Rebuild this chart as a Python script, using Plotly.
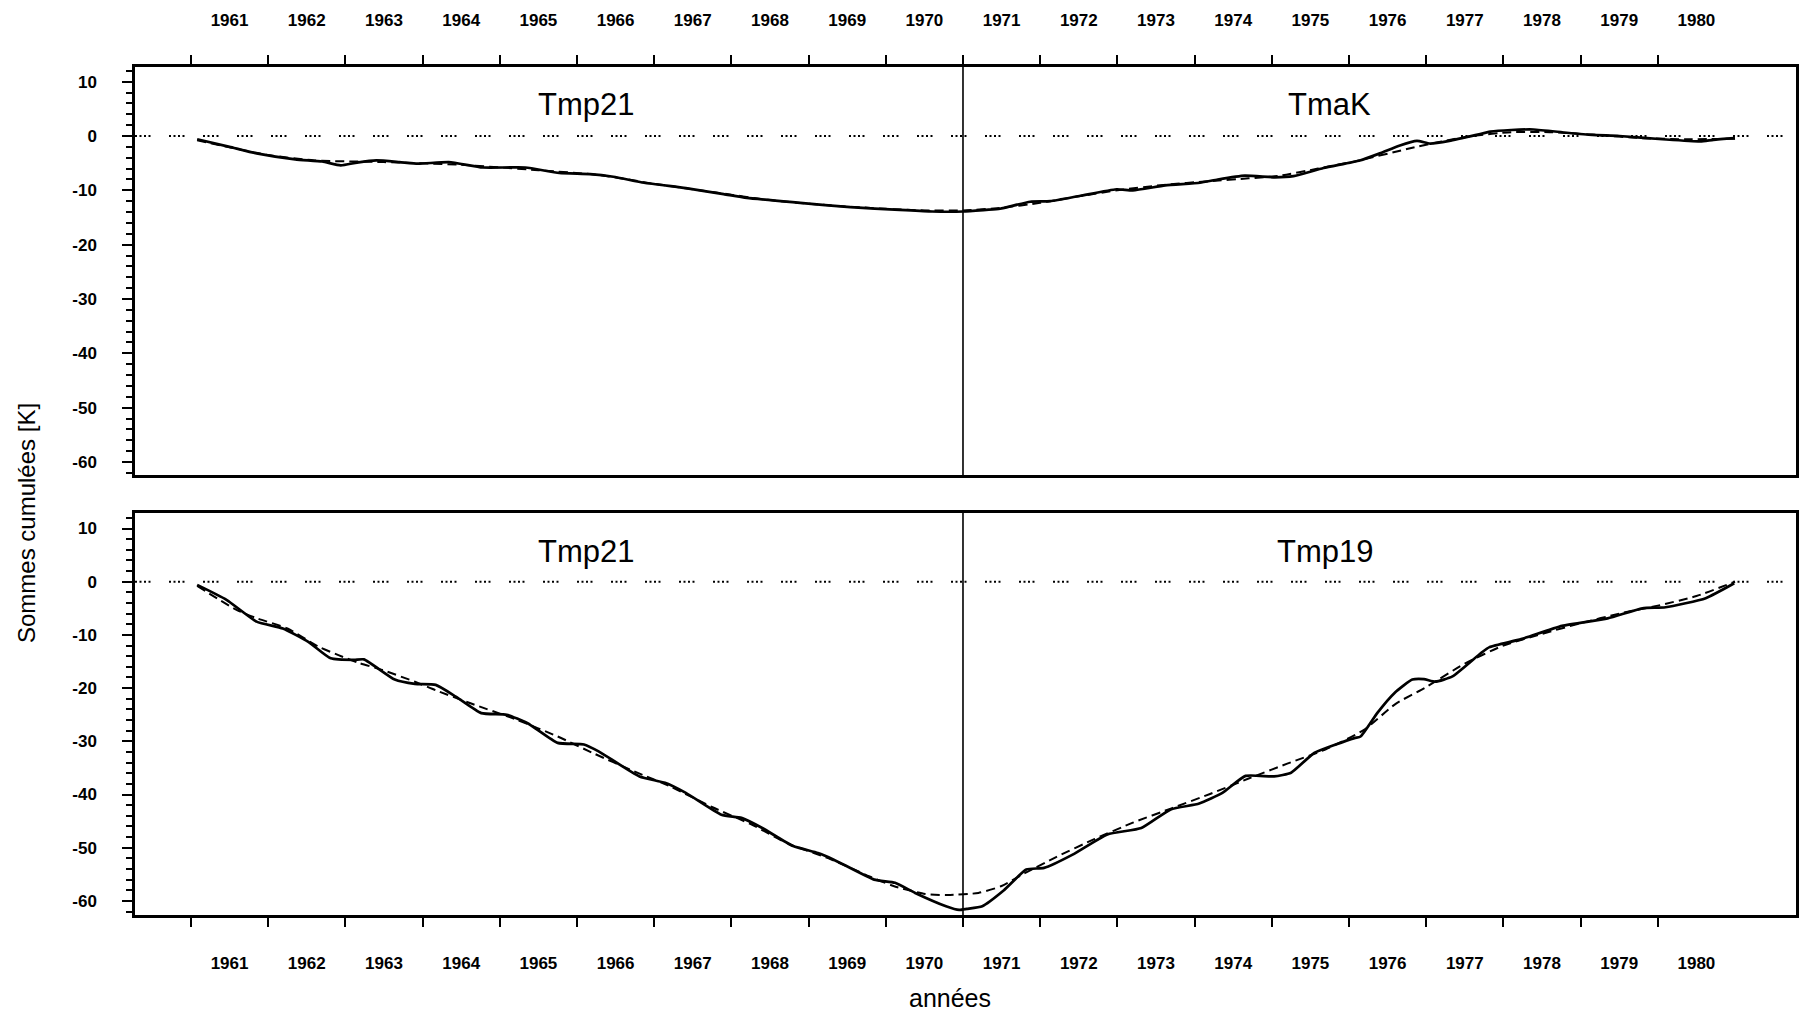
import plotly.graph_objects as go

# ---- upper row: cumulative sums Tmp21 (1961-1970) | TmaK (1971-1980) ----
top_years = [1961.08, 1961.5, 1961.85, 1962.35, 1962.7, 1962.94, 1963.15, 1963.4, 1963.7, 1963.94,
             1964.34, 1964.78, 1965.33, 1965.77, 1966.17, 1966.47, 1966.87, 1967.41, 1967.9, 1968.2,
             1968.89, 1969.54, 1970.18, 1970.6, 1971.0, 1971.3, 1971.48, 1971.87, 1972.13, 1972.52,
             1972.99, 1973.2, 1973.62, 1974.07, 1974.3, 1974.65, 1975.04, 1975.28, 1975.67, 1976.14,
             1976.4, 1976.65, 1976.88, 1977.05, 1977.3, 1977.65, 1977.83, 1978.1, 1978.39, 1978.82,
             1979.15, 1979.5, 1980.06, 1980.55, 1980.72, 1981.0]
top_solid = [-0.6, -2.0, -3.2, -4.3, -4.7, -5.4, -4.9, -4.5, -4.8, -5.1,
             -4.8, -5.8, -5.8, -6.8, -7.0, -7.5, -8.6, -9.6, -10.7, -11.4,
             -12.3, -13.1, -13.6, -13.9, -13.9, -13.6, -13.4, -12.1, -12.0, -11.0,
             -9.8, -10.0, -9.1, -8.6, -8.0, -7.3, -7.6, -7.4, -5.9, -4.5,
             -3.2, -1.8, -0.9, -1.4, -0.9, 0.2, 0.8, 1.1, 1.2, 0.6,
             0.2, 0.0, -0.6, -1.0, -0.7, -0.4]

top_fit_years = [1961.08, 1962.0, 1962.6, 1963.5, 1964.5, 1965.5, 1966.3, 1967.0, 1967.8, 1968.5,
                 1969.3, 1970.0, 1970.5, 1971.0, 1971.5, 1972.0, 1972.5, 1973.0, 1973.6, 1974.2,
                 1974.7, 1975.1, 1975.6, 1976.1, 1976.75, 1977.2, 1977.6, 1978.1, 1978.6, 1979.2,
                 1979.8, 1980.4, 1981.0]
top_fit = [-0.8, -3.5, -4.5, -4.8, -5.3, -6.3, -7.2, -8.8, -10.4, -11.8,
           -12.8, -13.4, -13.7, -13.7, -13.2, -12.3, -11.1, -10.0, -9.0, -8.3,
           -7.8, -7.3, -6.0, -4.6, -2.4, -1.0, 0.0, 0.7, 0.7, 0.2,
           -0.4, -0.6, -0.5]

# ---- lower row: cumulative sums Tmp21 (1961-1970) | Tmp19 (1971-1980) ----
bottom_years = [1961.08, 1961.46, 1961.85, 1962.19, 1962.52, 1962.81, 1963.11, 1963.24, 1963.64, 1963.9,
                1964.17, 1964.43, 1964.76, 1965.09, 1965.36, 1965.75, 1966.09, 1966.28, 1966.81, 1967.14,
                1967.41, 1967.87, 1968.13, 1968.4, 1968.8, 1969.12, 1969.32, 1969.85, 1970.12, 1970.38,
                1970.78, 1970.95, 1971.05, 1971.25, 1971.53, 1971.82, 1972.05, 1972.42, 1972.87, 1973.31,
                1973.69, 1974.06, 1974.36, 1974.66, 1975.03, 1975.25, 1975.55, 1976.07, 1976.15, 1976.37,
                1976.59, 1976.82, 1976.97, 1977.12, 1977.34, 1977.71, 1977.82, 1978.23, 1978.76, 1979.35,
                1979.8, 1980.1, 1980.62, 1980.99]
bottom_solid = [-0.6, -3.4, -7.5, -8.8, -11.3, -14.4, -14.7, -14.6, -18.4, -19.2,
                -19.4, -21.6, -24.7, -25.0, -26.6, -30.3, -30.6, -31.9, -36.6, -37.8,
                -39.7, -43.8, -44.4, -46.3, -49.7, -51.0, -52.2, -56.0, -56.6, -58.5,
                -61.0, -61.7, -61.5, -61.0, -58.0, -54.1, -53.8, -51.3, -47.5, -46.3,
                -42.8, -41.7, -39.7, -36.5, -36.6, -35.9, -32.2, -29.4, -29.1, -24.6,
                -20.9, -18.4, -18.3, -18.8, -17.8, -13.4, -12.3, -10.8, -8.3, -6.9,
                -5.0, -4.8, -3.1, -0.3]

bottom_fit_years = [1961.08, 1961.59, 1961.86, 1962.25, 1962.65, 1962.91, 1963.18, 1963.48, 1963.9, 1964.17,
                    1964.63, 1965.23, 1965.75, 1966.22, 1966.75, 1967.21, 1967.74, 1968.27, 1968.73, 1969.26,
                    1969.79, 1970.1, 1970.51, 1970.8, 1971.2, 1971.5, 1971.8, 1972.2, 1972.7, 1973.2,
                    1973.7, 1974.2, 1974.7, 1975.2, 1975.7, 1976.2, 1976.6, 1977.0, 1977.5, 1978.0,
                    1978.5, 1979.0, 1979.5, 1980.0, 1980.5, 1981.0]
bottom_fit = [-0.8, -5.3, -6.9, -8.8, -12.2, -13.8, -15.3, -16.6, -18.8, -20.4,
              -22.9, -26.0, -29.1, -32.3, -35.7, -38.5, -42.3, -45.7, -49.2, -52.0,
              -55.4, -57.2, -58.7, -58.9, -58.5, -57.2, -54.8, -51.8, -48.4, -45.3,
              -42.6, -39.9, -37.0, -34.2, -31.5, -27.8, -23.0, -19.8, -15.4, -12.0,
              -9.8, -7.8, -6.0, -4.5, -2.7, 0.0]

# panel labels: (name, year position, value position)
top_labels = [("Tmp21", 1966.12, 5.8), ("TmaK", 1975.75, 5.8)]
bottom_labels = [("Tmp21", 1966.12, 5.6), ("Tmp19", 1975.69, 5.6)]

# axis ticks
year_ticks = list(range(1961, 1981))
year_text = [str(y) for y in year_ticks]
year_label_pos = [y + 0.5 for y in year_ticks]
y_major = [10, 0, -10, -20, -30, -40, -50, -60]
y_minor = [v for v in range(-62, 13, 2) if v % 10 != 0]
split_year = 1971

FONT = "Liberation Sans, Arial, Helvetica, sans-serif"
BLACK = "black"
X_DOMAIN = [135 / 1802, 1796 / 1802]
X_RANGE = [1960.275, 1981.79]

fig = go.Figure()

for xa, ya, yrs, vals, fyrs, fvals in [
    ("x", "y", top_years, top_solid, top_fit_years, top_fit),
    ("x2", "y2", bottom_years, bottom_solid, bottom_fit_years, bottom_fit),
]:
    fig.add_trace(go.Scatter(x=fyrs, y=fvals, mode="lines", xaxis=xa, yaxis=ya,
                             line=dict(color=BLACK, width=2, dash="9px,5px",
                                       shape="spline", smoothing=0.6),
                             showlegend=False, hoverinfo="skip"))
    fig.add_trace(go.Scatter(x=yrs, y=vals, mode="lines", xaxis=xa, yaxis=ya,
                             line=dict(color=BLACK, width=2.7, shape="spline", smoothing=0.5),
                             showlegend=False, hoverinfo="skip"))


def x_axis(anchor, side, standoff):
    return dict(
        domain=X_DOMAIN, range=X_RANGE, anchor=anchor, side=side,
        tickmode="array", tickvals=year_label_pos, ticktext=year_text, ticks="",
        tickfont=dict(family=FONT, size=17, color=BLACK, weight=700),
        ticklabelstandoff=standoff,
        minor=dict(tickmode="array", tickvals=year_ticks, ticks="outside",
                   ticklen=9, tickwidth=2, tickcolor=BLACK),
        showline=True, linecolor=BLACK, linewidth=2.5, mirror=True,
        showgrid=False, zeroline=False, fixedrange=True,
    )


def y_axis(anchor, domain, rng):
    return dict(
        domain=domain, range=rng, anchor=anchor,
        tickmode="array", tickvals=y_major, ticktext=[str(v) for v in y_major],
        ticks="outside", ticklen=10, tickwidth=2, tickcolor=BLACK,
        tickfont=dict(family=FONT, size=17, color=BLACK, weight=700),
        ticklabelstandoff=22,
        minor=dict(tickmode="array", tickvals=y_minor, ticks="outside",
                   ticklen=6, tickwidth=1.6, tickcolor=BLACK),
        showline=True, linecolor=BLACK, linewidth=2.5, mirror=True,
        showgrid=False, zeroline=False, fixedrange=True,
    )


dotted = "2px,2.5px,2px,2.5px,2px,2.5px,2px,18.5px"
shapes = []
annotations = []
for xa, ya, labels in [("x", "y", top_labels), ("x2", "y2", bottom_labels)]:
    # reference line at zero
    shapes.append(dict(type="line", xref=f"{xa} domain", yref=ya, x0=0, x1=1, y0=0, y1=0,
                       line=dict(color=BLACK, width=2, dash=dotted), layer="below"))
    # separation between the two series of a row
    shapes.append(dict(type="line", xref=xa, yref=f"{ya} domain", x0=split_year, x1=split_year,
                       y0=0, y1=1, line=dict(color=BLACK, width=1.6)))
    for name, xpos, ypos in labels:
        annotations.append(dict(text=name, xref=xa, yref=ya, x=xpos, y=ypos,
                                showarrow=False, xanchor="center", yanchor="middle",
                                font=dict(family=FONT, size=31, color=BLACK)))

annotations.append(dict(text="Sommes cumulées [K]", xref="paper", yref="paper",
                        x=26 / 1802, y=1 - 523 / 1013, textangle=-90, showarrow=False,
                        xanchor="center", yanchor="middle",
                        font=dict(family=FONT, size=24, color=BLACK)))
annotations.append(dict(text="années", xref="paper", yref="paper",
                        x=949.5 / 1802, y=1 - 998 / 1013, showarrow=False,
                        xanchor="center", yanchor="middle",
                        font=dict(family=FONT, size=25, color=BLACK)))

fig.update_layout(
    width=1802, height=1013,
    margin=dict(l=0, r=0, t=0, b=0),
    paper_bgcolor="white", plot_bgcolor="white",
    xaxis=x_axis("y", "top", 31),
    xaxis2=x_axis("y2", "bottom", 31),
    yaxis=y_axis("x", [1 - 475 / 1013, 1 - 67 / 1013], [-62.4, 12.7]),
    yaxis2=y_axis("x2", [1 - 915 / 1013, 1 - 512.7 / 1013], [-62.65, 12.97]),
    shapes=shapes, annotations=annotations,
    showlegend=False,
)

fig.write_html("out.html")
